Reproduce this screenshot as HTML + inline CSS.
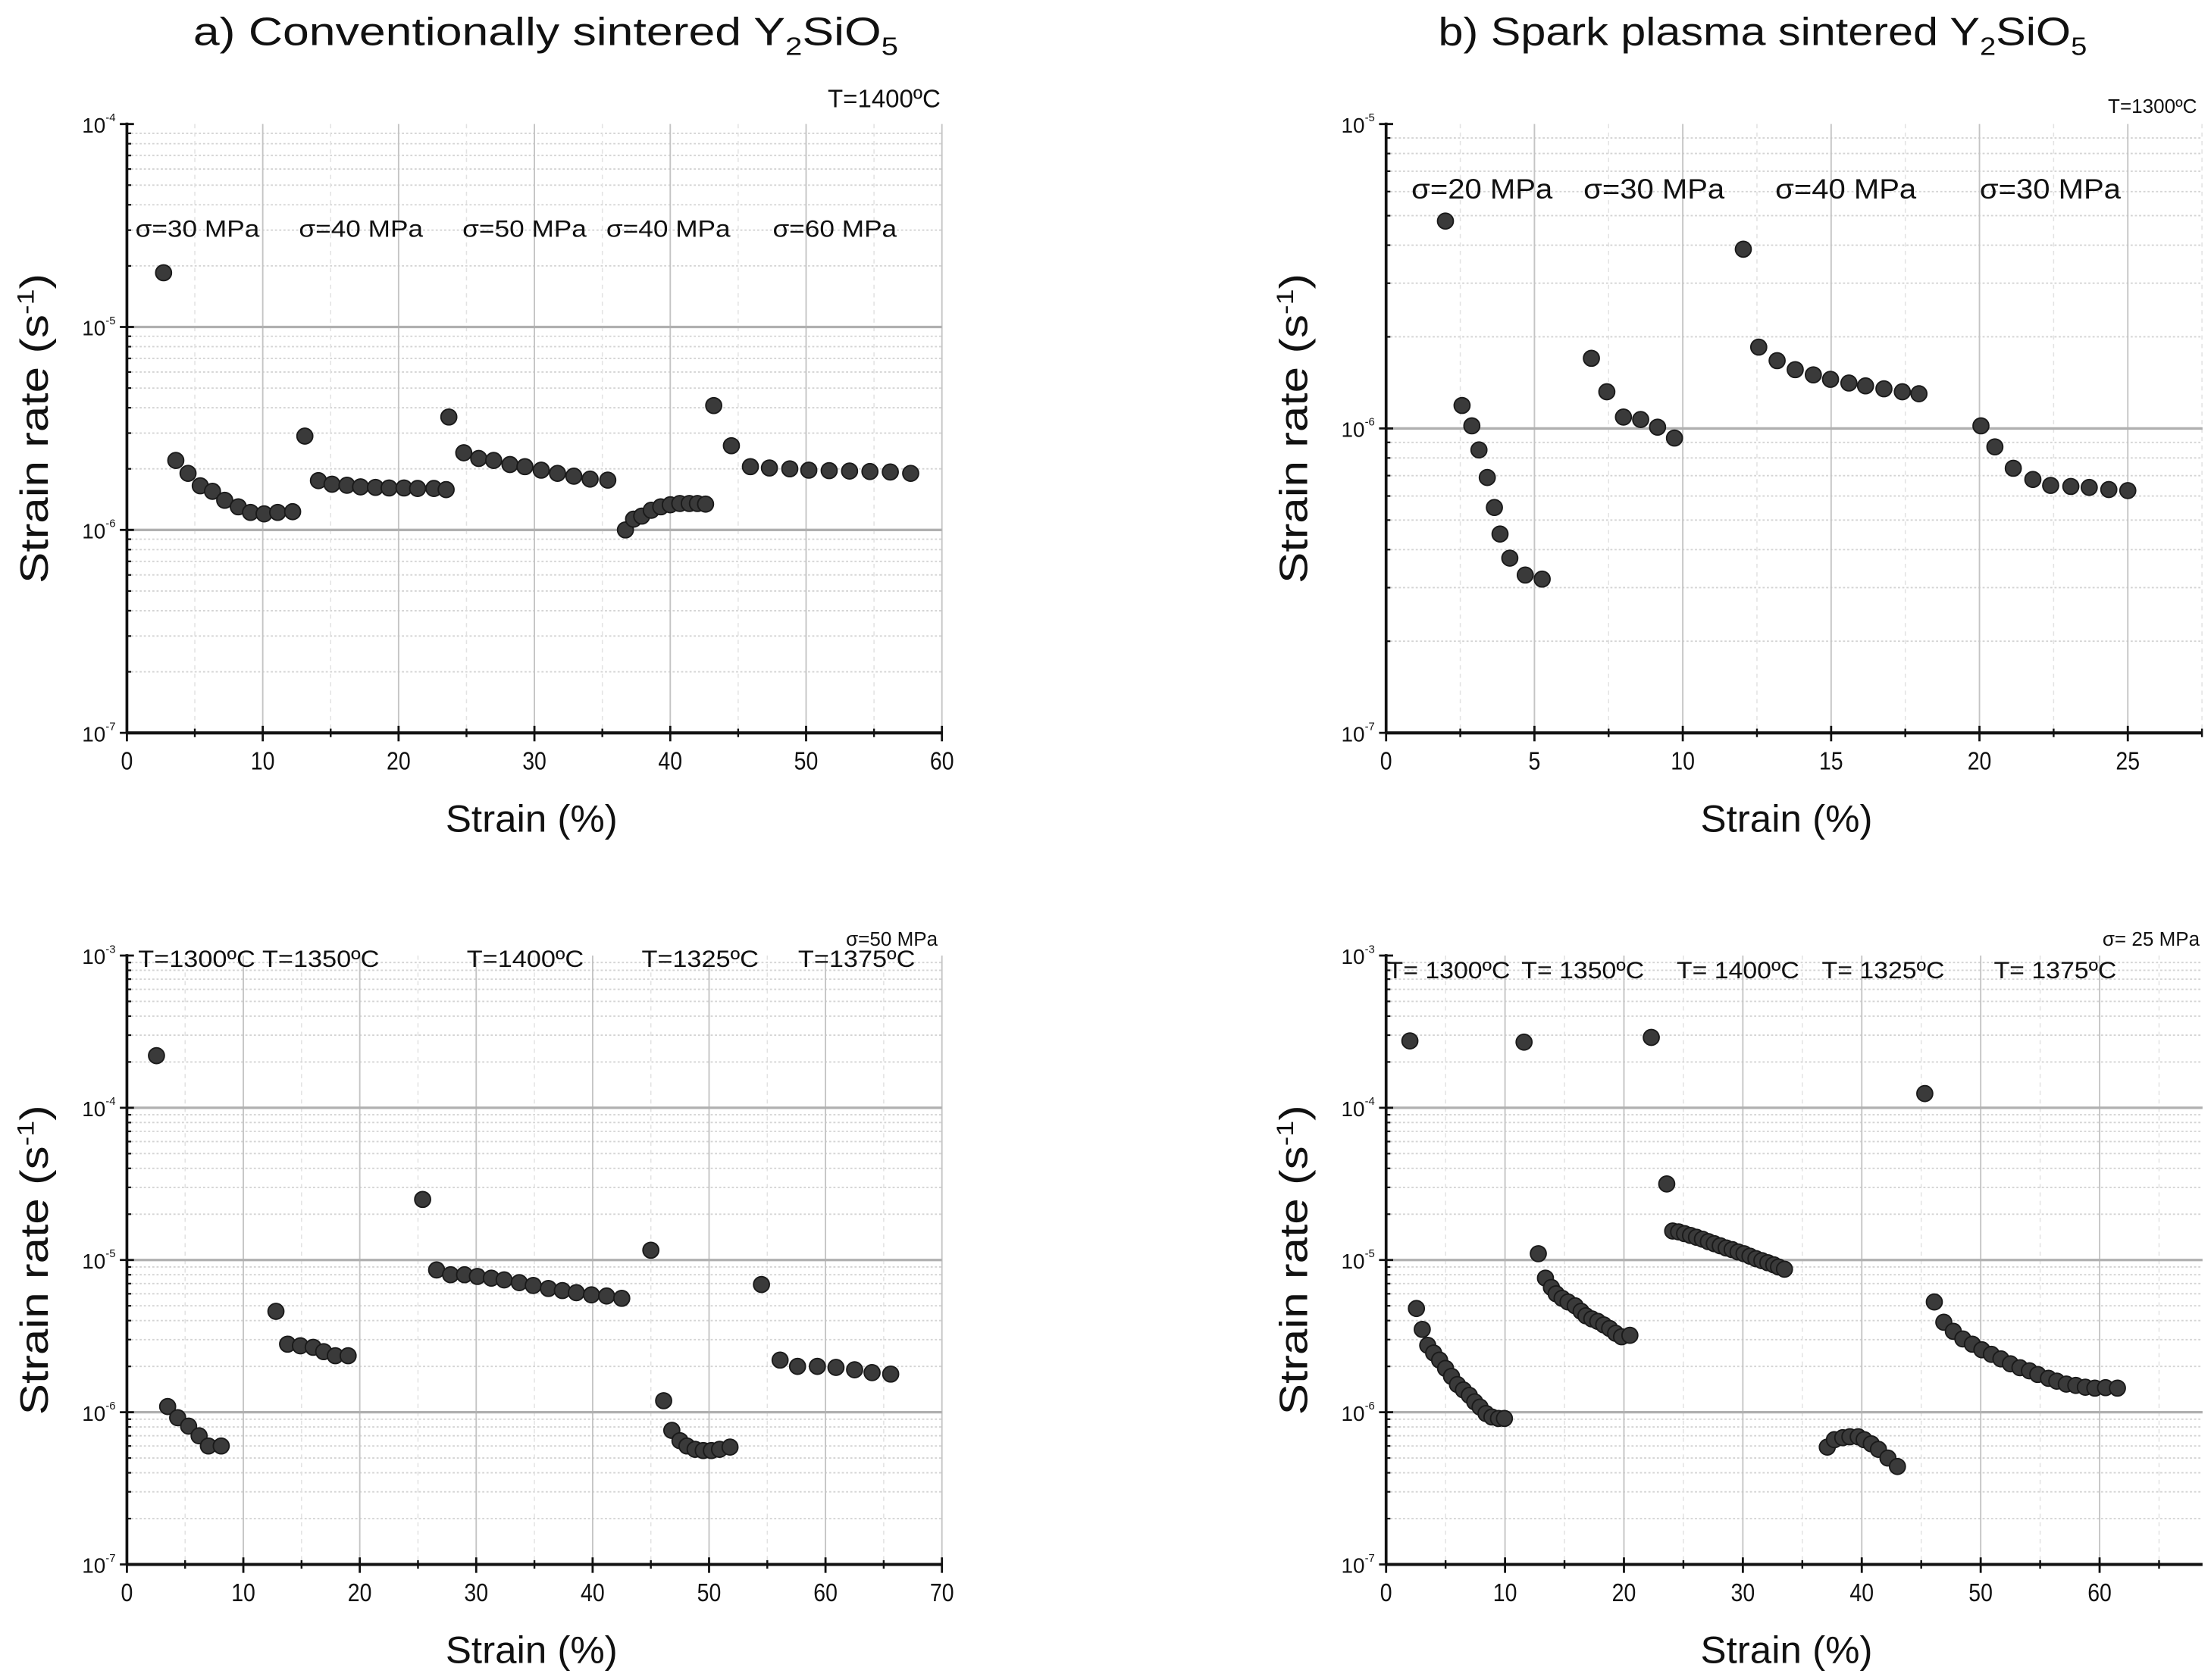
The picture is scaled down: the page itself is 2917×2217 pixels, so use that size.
<!DOCTYPE html>
<html><head><meta charset="utf-8"><style>
html,body{margin:0;padding:0;background:#fff}
svg{display:block}
text{font-family:"Liberation Sans",sans-serif;fill:#111}
</style></head><body>
<svg id="fig" width="2917" height="2217" viewBox="0 0 1568 1192" preserveAspectRatio="none" xmlns="http://www.w3.org/2000/svg">
<text x="137" y="32" font-size="28" textLength="500" lengthAdjust="spacingAndGlyphs">a) Conventionally sintered Y<tspan font-size="18" dy="7">2</tspan><tspan dy="-7">SiO</tspan><tspan font-size="18" dy="7">5</tspan></text>
<text x="1020" y="32" font-size="28" textLength="460" lengthAdjust="spacingAndGlyphs">b) Spark plasma sintered Y<tspan font-size="18" dy="7">2</tspan><tspan dy="-7">SiO</tspan><tspan font-size="18" dy="7">5</tspan></text>
</svg>
<script>
// ---- Panel A data (strain %, strain rate s^-1) ----
const aX=[2.7,3.6,4.5,5.4,6.3,7.2,8.2,9.1,10.1,11.1,12.2,13.1,14.1,15.1,16.2,17.2,18.3,19.3,20.4,21.4,22.6,23.5,23.7,24.8,25.9,27.0,28.2,29.3,30.5,31.7,32.9,34.1,35.4,36.7,37.3,37.9,38.6,39.3,40.0,40.7,41.4,42.0,42.6,43.2,44.5,45.9,47.3,48.8,50.2,51.7,53.2,54.7,56.2,57.7];
const aY=[1.85e-5,2.2e-6,1.9e-6,1.65e-6,1.55e-6,1.4e-6,1.3e-6,1.22e-6,1.2e-6,1.22e-6,1.23e-6,2.9e-6,1.75e-6,1.68e-6,1.66e-6,1.63e-6,1.62e-6,1.61e-6,1.61e-6,1.6e-6,1.6e-6,1.58e-6,3.6e-6,2.4e-6,2.25e-6,2.2e-6,2.1e-6,2.05e-6,1.97e-6,1.9e-6,1.84e-6,1.78e-6,1.76e-6,1.0e-6,1.13e-6,1.17e-6,1.25e-6,1.3e-6,1.33e-6,1.35e-6,1.35e-6,1.35e-6,1.34e-6,4.1e-6,2.6e-6,2.05e-6,2.02e-6,2.0e-6,1.97e-6,1.96e-6,1.95e-6,1.94e-6,1.93e-6,1.9e-6];
// ---- Panel B data ----
const bX=[2.0,2.56,2.89,3.13,3.41,3.65,3.84,4.17,4.69,5.26,6.92,7.44,8.0,8.58,9.15,9.72,12.04,12.56,13.18,13.79,14.4,14.98,15.6,16.16,16.78,17.4,17.96,20.05,20.52,21.14,21.8,22.4,23.08,23.7,24.36,25.0];
const bY=[4.8e-6,1.19e-6,1.02e-6,0.85e-6,0.69e-6,0.55e-6,0.45e-6,0.375e-6,0.33e-6,0.32e-6,1.7e-6,1.32e-6,1.09e-6,1.07e-6,1.01e-6,0.93e-6,3.88e-6,1.85e-6,1.67e-6,1.56e-6,1.5e-6,1.45e-6,1.41e-6,1.38e-6,1.35e-6,1.32e-6,1.3e-6,1.02e-6,0.87e-6,0.74e-6,0.68e-6,0.65e-6,0.645e-6,0.64e-6,0.63e-6,0.625e-6];
// ---- Panel C data ----
const cX=[2.54,3.5,4.36,5.3,6.2,7.0,8.1,12.8,13.8,14.9,16.0,16.9,17.9,19.0,25.4,26.6,27.8,29.0,30.1,31.3,32.4,33.7,34.9,36.2,37.4,38.6,39.9,41.2,42.5,45.0,46.1,46.8,47.5,48.1,48.8,49.5,50.2,50.9,51.8,54.5,56.1,57.6,59.3,60.9,62.5,64.0,65.6];
const cY=[2.2e-4,1.09e-6,0.92e-6,0.81e-6,0.7e-6,0.6e-6,0.6e-6,4.6e-6,2.8e-6,2.73e-6,2.67e-6,2.5e-6,2.35e-6,2.35e-6,2.5e-5,8.6e-6,8.0e-6,8.0e-6,7.8e-6,7.6e-6,7.4e-6,7.1e-6,6.8e-6,6.5e-6,6.3e-6,6.1e-6,5.9e-6,5.8e-6,5.6e-6,1.16e-5,1.19e-6,0.76e-6,0.65e-6,0.6e-6,0.57e-6,0.56e-6,0.56e-6,0.57e-6,0.59e-6,6.9e-6,2.2e-6,2.0e-6,2.0e-6,1.97e-6,1.9e-6,1.82e-6,1.78e-6];
// ---- Panel D data ----
const dX=[2.0,11.6,22.3,45.3,23.6,2.55,3.04,3.5,4.0,4.5,5.0,5.5,6.0,6.5,7.0,7.45,7.9,8.4,8.9,9.45,9.95,12.8,13.4,13.9,14.3,14.8,15.3,15.9,16.4,16.8,17.3,17.8,18.3,18.8,19.3,19.8,20.5,24.1,24.6,25.1,25.6,26.1,26.6,27.1,27.6,28.1,28.6,29.1,29.6,30.1,30.6,31.1,31.6,32.1,32.6,33.0,33.5,37.1,37.7,38.4,39.0,39.7,40.2,40.8,41.4,42.2,43.0,46.1,46.9,47.7,48.5,49.3,50.1,50.9,51.7,52.5,53.3,54.1,54.8,55.7,56.4,57.2,58.0,58.8,59.6,60.5,61.5];
const dY=[2.75e-4,2.7e-4,2.9e-4,1.24e-4,3.16e-5,4.8e-6,3.5e-6,2.75e-6,2.45e-6,2.2e-6,1.94e-6,1.72e-6,1.52e-6,1.4e-6,1.29e-6,1.17e-6,1.08e-6,0.98e-6,0.93e-6,0.91e-6,0.91e-6,1.1e-5,7.6e-6,6.6e-6,6.0e-6,5.6e-6,5.3e-6,5.0e-6,4.6e-6,4.3e-6,4.1e-6,3.95e-6,3.75e-6,3.55e-6,3.3e-6,3.13e-6,3.2e-6,1.55e-5,1.53e-5,1.49e-5,1.45e-5,1.41e-5,1.37e-5,1.32e-5,1.28e-5,1.24e-5,1.2e-5,1.17e-5,1.13e-5,1.1e-5,1.06e-5,1.02e-5,9.9e-6,9.6e-6,9.3e-6,9.0e-6,8.7e-6,0.59e-6,0.66e-6,0.68e-6,0.69e-6,0.69e-6,0.66e-6,0.62e-6,0.57e-6,0.5e-6,0.44e-6,5.3e-6,3.9e-6,3.4e-6,3.03e-6,2.8e-6,2.57e-6,2.4e-6,2.24e-6,2.08e-6,1.96e-6,1.87e-6,1.77e-6,1.67e-6,1.6e-6,1.53e-6,1.5e-6,1.46e-6,1.44e-6,1.45e-6,1.44e-6];
// tick labels
const aXTicks=[0,10,20,30,40,50,60];
const bXTicks=[0,5,10,15,20,25];
const cXTicks=[0,10,20,30,40,50,60,70];
const dXTicks=[0,10,20,30,40,50,60];
const abDecades=[-7,-6,-5,-4];
const bDecades=[-7,-6,-5];
const cdDecades=[-7,-6,-5,-4,-3];

const NS='http://www.w3.org/2000/svg';
const svg=document.getElementById('fig');
function mk(tag,attrs,parent){const e=document.createElementNS(NS,tag);for(const k in attrs)e.setAttribute(k,attrs[k]);(parent||svg).appendChild(e);return e;}

function panel(id,cfg,xs,ys){
  const g=mk('g',{});
  
  
  const x=v=>cfg.x0+(v-cfg.xmin)/(cfg.xmax-cfg.xmin)*(cfg.x1-cfg.x0);
  const lmin=cfg.dec[0],lmax=cfg.dec[cfg.dec.length-1];
  const y=v=>cfg.y0-(Math.log10(v)-lmin)/(lmax-lmin)*(cfg.y0-cfg.y1);
  const xr=cfg.xend;
  for(let d=lmin;d<lmax;d++){for(let m=2;m<=9;m++){const yy=y(m*Math.pow(10,d));
    const l=mk('line',{x1:cfg.x0,x2:xr,y1:yy,y2:yy,stroke:'#d4d4d4','stroke-width':1,'stroke-dasharray':'1.5,1.5'},g);
    
    const t=mk('line',{x1:cfg.x0,x2:cfg.x0+3,y1:yy,y2:yy,stroke:'#111','stroke-width':1.2},g);
    }}
  for(let v=cfg.xmin+cfg.step/2;x(v)<=xr+0.5;v+=cfg.step){const xx=x(v);
    const l=mk('line',{x1:xx,x2:xx,y1:cfg.y1,y2:cfg.y0,stroke:'#e2e2e2','stroke-width':0.8,'stroke-dasharray':'3,3'},g);
    
    const t=mk('line',{x1:xx,x2:xx,y1:cfg.y0-3,y2:cfg.y0+3,stroke:'#111','stroke-width':1.3},g);
    }
  cfg.ticks.forEach(v=>{const xx=x(v);
    if(v!==cfg.xmin){const l=mk('line',{x1:xx,x2:xx,y1:cfg.y1,y2:cfg.y0,stroke:'#c4c4c4','stroke-width':1},g);
      }
    const t=mk('line',{x1:xx,x2:xx,y1:cfg.y0-5,y2:cfg.y0+6,stroke:'#111','stroke-width':1.5},g);
    
    const tx=mk('text',{x:xx,y:cfg.y0+26,'font-size':18,'text-anchor':'middle',transform:'translate('+xx+' 0) scale(0.85 1) translate('+(-xx)+' 0)'},g);tx.textContent=v;
    });
  cfg.dec.forEach(d=>{const yy=y(Math.pow(10,d));
    if(d!==lmin&&d!==lmax){const l=mk('line',{x1:cfg.x0,x2:xr,y1:yy,y2:yy,stroke:'#b0b0b0','stroke-width':1.8},g);
      }
    const t=mk('line',{x1:cfg.x0-5,x2:cfg.x0+5,y1:yy,y2:yy,stroke:'#111','stroke-width':1.5},g);
    
    const tx=mk('text',{x:cfg.x0-8,y:yy+6,'font-size':15,'text-anchor':'end'},g);
    
    tx.textContent='10';const sp=mk('tspan',{'font-size':8,dy:-8},tx);sp.textContent=String(d);});
  const ax=mk('line',{x1:cfg.x0,x2:xr,y1:cfg.y0,y2:cfg.y0,stroke:'#111','stroke-width':2.2},g);
  
  const ay=mk('line',{x1:cfg.x0,x2:cfg.x0,y1:cfg.y1-1,y2:cfg.y0,stroke:'#111','stroke-width':2},g);
  
  const xt=mk('text',{x:cfg.xc-61,y:cfg.y0+70,'font-size':27,textLength:122,lengthAdjust:'spacingAndGlyphs'},g);xt.textContent='Strain (%)';
  
  const ym=(cfg.y0+cfg.y1)/2, yx=cfg.x0-66;
  const yt=mk('text',{x:yx-110,y:ym+10,'font-size':28,textLength:220,lengthAdjust:'spacingAndGlyphs',transform:'rotate(-90 '+yx+' '+(ym)+')'},g);
  yt.textContent='Strain rate (s';const s1=mk('tspan',{'font-size':17,dy:-10},yt);s1.textContent='-1';const s2=mk('tspan',{dy:10},yt);s2.textContent=')';
  
  xs.forEach((v,i)=>{const c=mk('circle',{cx:x(v),cy:y(ys[i]),r:5.6,fill:'#3a3a3a',stroke:'#1a1a1a','stroke-width':1},g);
    });
  cfg.ann.forEach(a=>{const at={x:a[1],y:a[2],'font-size':a[3],'text-anchor':a[4]||'start'};
    if(a[5]){at.textLength=a[5];at.lengthAdjust='spacingAndGlyphs';}
    const t=mk('text',at,g);t.textContent=a[0];
    });
}
panel('a',{x0:90,x1:668,xend:668,xc:377,xmin:0,xmax:60,step:10,ticks:aXTicks,y0:520,y1:88,dec:abDecades,
  ann:[['T=1400ºC',667,76,18,'end',80],['σ=30 MPa',96,168,17,'start',88],['σ=40 MPa',212,168,17,'start',88],['σ=50 MPa',328,168,17,'start',88],['σ=40 MPa',430,168,17,'start',88],['σ=60 MPa',548,168,17,'start',88]]},aX,aY);
panel('b',{x0:983,x1:1509,xend:1562,xc:1267,xmin:0,xmax:25,step:5,ticks:bXTicks,y0:520,y1:88,dec:bDecades,
  ann:[['T=1300ºC',1558,80,14,'end'],['σ=20 MPa',1001,141,20,'start',100],['σ=30 MPa',1123,141,20,'start',100],['σ=40 MPa',1259,141,20,'start',100],['σ=30 MPa',1404,141,20,'start',100]]},bX,bY);
panel('c',{x0:90,x1:668,xend:668,xc:377,xmin:0,xmax:70,step:10,ticks:cXTicks,y0:1110,y1:678,dec:cdDecades,
  ann:[['σ=50 MPa',665,671,14,'end'],['T=1300ºC',98,686,17,'start',83],['T=1350ºC',186,686,17,'start',83],['T=1400ºC',331,686,17,'start',83],['T=1325ºC',455,686,17,'start',83],['T=1375ºC',566,686,17,'start',83]]},cX,cY);
panel('d',{x0:983,x1:1489,xend:1562,xc:1267,xmin:0,xmax:60,step:10,ticks:dXTicks,y0:1110,y1:678,dec:cdDecades,
  ann:[['σ= 25 MPa',1560,671,14,'end'],['T= 1300ºC',984,694,17,'start',87],['T= 1350ºC',1079,694,17,'start',87],['T= 1400ºC',1189,694,17,'start',87],['T= 1325ºC',1292,694,17,'start',87],['T= 1375ºC',1414,694,17,'start',87]]},dX,dY);
</script>
</body></html>
